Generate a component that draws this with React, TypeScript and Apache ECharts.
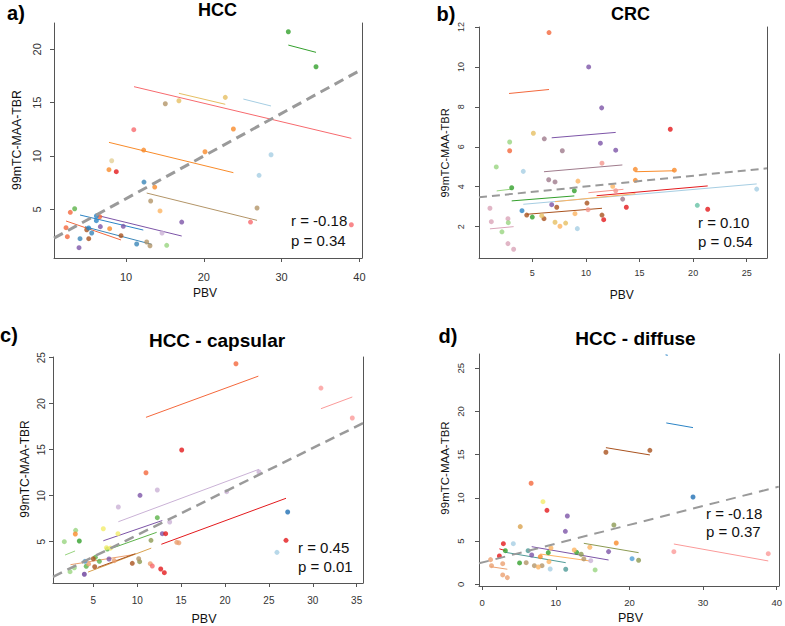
import React, { useEffect, useRef } from 'react';
import * as echarts from 'echarts';

const COL: Record<string, string> = {
  orangeRed: '#f4683c', orange: '#f98b2a', red: '#e3191c', pinkRed: '#f76a6e',
  steel: '#3a86b8', blue: '#2b84c6', blue2: '#4f9fd6', darkBlue: '#1f6fb4', lightBlue: '#a6cee3',
  green: '#33a02c', midGreen: '#5db34a', lightGreen: '#98d47f',
  purple: '#7d55a8', darkPurple: '#6a3d9a', lavender: '#cab2d6',
  brown: '#a9521e', tan: '#b39568', khaki: '#e6bf63', beige: '#e3cf96',
  lightOrange: '#fdb462', salmon: '#f4978e', pink: '#fb9a99', mauve: '#9f7b8c',
  dustyPink: '#d9a4b8', mint: '#66c2a5', yellow: '#f2ec6a', olive: '#8c9a52',
  peach: '#eba070', teal: '#4e9a96', tanOrange: '#d9a24f',
};

type Pt = [number, number, string];
type Seg = [number, number, number, number, string];

// ---------- a) HCC ----------
const hccPoints: Pt[] = [
  [8.16, 9.56, 'beige'], [7.81, 8.72, 'orange'], [8.75, 8.53, 'red'], [12.31, 7.56, 'steel'],
  [13.69, 7.09, 'orange'], [13.17, 5.78, 'tan'], [14.37, 4.85, 'lightOrange'], [3.4, 5.06, 'midGreen'],
  [2.84, 4.72, 'orangeRed'], [6.62, 4.31, 'orangeRed'], [6.19, 4.38, 'blue'], [6.19, 3.94, 'blue'],
  [2.29, 3.28, 'orangeRed'], [2.46, 2.44, 'orangeRed'], [4.09, 2.25, 'steel'], [3.96, 1.41, 'purple'],
  [4.95, 3.09, 'brown'], [5.21, 2.25, 'brown'], [5.2, 3.25, 'blue'], [5.59, 2.78, 'steel'],
  [6.7, 3.38, 'purple'], [7.9, 3.19, 'orange'], [9.65, 3.41, 'purple'], [9.36, 2.53, 'brown'],
  [11.37, 1.75, 'steel'], [12.66, 1.94, 'tan'], [13.08, 1.59, 'tan'], [15.23, 1.63, 'lightGreen'],
  [14.63, 2.78, 'lavender'], [17.16, 3.81, 'purple'], [11.0, 12.47, 'pinkRed'], [12.27, 10.56, 'orange'],
  [15.05, 14.9, 'tan'], [16.8, 15.18, 'khaki'], [22.76, 15.5, 'khaki'], [30.86, 21.65, 'green'],
  [34.42, 18.37, 'green'], [23.8, 12.53, 'orange'], [20.15, 10.4, 'orange'], [28.64, 10.12, 'lightBlue'],
  [27.1, 8.19, 'lightBlue'], [26.84, 5.13, 'tan'], [26.0, 3.81, 'pinkRed'], [38.96, 3.56, 'pinkRed'],
];
const hccSegments: Seg[] = [
  [11.03, 16.5, 38.96, 11.66, 'pinkRed'], [16.8, 15.88, 22.76, 14.85, 'khaki'],
  [25.08, 15.34, 28.64, 14.69, 'lightBlue'], [30.86, 20.4, 34.42, 19.72, 'green'],
  [7.81, 11.28, 23.8, 8.44, 'orange'], [12.66, 6.53, 26.84, 3.97, 'tan'],
  [4.09, 4.47, 12.22, 3.06, 'blue'], [6.44, 4.41, 17.16, 2.5, 'purple'],
  [2.29, 3.91, 9.36, 2.13, 'orangeRed'], [4.73, 3.37, 13.3, 1.72, 'steel'],
];
const hccFit = { intercept: 2.0, slope: 0.4 };
const hccXTicks = [10, 20, 30, 40];
const hccYTicks = [5, 10, 15, 20];

// ---------- b) CRC ----------
const crcPoints: Pt[] = [
  [1.05, 2.92, 'dustyPink'], [1.18, 2.25, 'dustyPink'], [2.73, 2.4, 'dustyPink'], [2.73, 1.15, 'dustyPink'],
  [3.26, 0.87, 'dustyPink'], [1.64, 4.99, 'lightGreen'], [2.89, 6.24, 'lightGreen'], [2.17, 1.74, 'lightGreen'],
  [2.76, 2.2, 'lightGreen'], [2.89, 5.8, 'orangeRed'], [6.56, 11.72, 'orangeRed'], [3.08, 3.95, 'green'],
  [5.0, 2.48, 'green'], [8.92, 3.8, 'green'], [4.16, 4.77, 'lightBlue'], [9.2, 1.9, 'lightBlue'],
  [25.93, 3.88, 'lightBlue'], [4.04, 2.8, 'blue'], [4.48, 2.58, 'brown'], [6.09, 2.4, 'brown'],
  [7.28, 2.97, 'brown'], [10.1, 3.18, 'brown'], [11.5, 2.58, 'brown'], [5.1, 6.68, 'khaki'],
  [5.88, 2.55, 'khaki'], [7.12, 2.22, 'khaki'], [8.11, 2.18, 'khaki'], [6.12, 6.4, 'mauve'],
  [6.53, 4.35, 'mauve'], [7.12, 4.24, 'mauve'], [7.8, 5.8, 'mauve'], [13.43, 3.38, 'mauve'],
  [6.81, 3.1, 'purple'], [10.26, 10.0, 'purple'], [11.47, 7.95, 'purple'], [11.35, 6.18, 'purple'],
  [12.78, 5.83, 'purple'], [7.58, 2.02, 'lightOrange'], [8.98, 2.65, 'lightOrange'], [9.26, 4.28, 'lightOrange'],
  [12.5, 4.02, 'lightOrange'], [10.2, 2.85, 'salmon'], [11.5, 5.18, 'salmon'], [12.78, 3.8, 'salmon'],
  [11.66, 2.35, 'red'], [13.77, 2.97, 'red'], [17.87, 6.88, 'red'], [21.36, 2.87, 'red'],
  [14.61, 4.87, 'orange'], [14.61, 4.32, 'orange'], [18.25, 4.83, 'orange'], [20.39, 3.07, 'mint'],
];
const crcSegments: Seg[] = [
  [2.83, 8.67, 6.56, 8.87, 'orangeRed'], [6.81, 6.45, 12.78, 6.72, 'purple'],
  [6.09, 4.75, 13.4, 5.09, 'mauve'], [1.68, 3.79, 3.08, 3.88, 'lightGreen'],
  [3.08, 3.29, 8.92, 3.54, 'green'], [4.16, 3.12, 25.93, 4.14, 'lightBlue'],
  [7.12, 3.25, 14.61, 3.65, 'lightOrange'], [14.61, 4.75, 18.25, 4.8, 'orange'],
  [11.0, 3.55, 21.36, 4.04, 'red'], [10.23, 3.7, 13.5, 3.87, 'salmon'],
  [4.48, 2.62, 11.5, 2.92, 'brown'], [1.05, 1.89, 3.26, 2.0, 'dustyPink'],
];
const crcFit = { intercept: 3.47, slope: 0.054 };
const crcXTicks = [5, 10, 15, 20, 25];
const crcYTicks = [2, 4, 6, 8, 10, 12];

// ---------- c) HCC - capsular ----------
const capPoints: Pt[] = [
  [10.32, 10.04, 'purple'], [6.79, 3.12, 'purple'], [12.86, 5.87, 'purple'],
  [12.29, 10.62, 'lavender'], [7.85, 8.77, 'lavender'], [13.7, 7.14, 'lavender'], [23.87, 12.58, 'lavender'],
  [20.19, 10.44, 'lavender'], [12.29, 7.61, 'midGreen'], [5.69, 2.87, 'midGreen'], [4.2, 2.33, 'midGreen'],
  [5.23, 3.3, 'midGreen'], [6.6, 4.2, 'midGreen'], [2.99, 6.24, 'lightGreen'], [1.7, 5.0, 'lightGreen'],
  [2.35, 1.74, 'lightGreen'], [2.84, 2.17, 'lightGreen'], [2.95, 5.84, 'orange'], [3.41, 5.08, 'green'],
  [6.14, 6.41, 'yellow'], [7.81, 5.87, 'yellow'], [6.5, 4.35, 'yellow'], [6.95, 4.3, 'yellow'],
  [13.24, 5.87, 'red'], [15.07, 14.97, 'red'], [12.68, 2.03, 'red'], [13.09, 1.63, 'red'], [26.95, 5.15, 'red'],
  [11.57, 5.15, 'olive'], [10.28, 2.83, 'olive'], [14.5, 4.93, 'peach'], [14.75, 4.88, 'peach'],
  [4.47, 2.58, 'peach'], [7.39, 2.94, 'peach'], [11.49, 2.61, 'peach'], [4.05, 2.87, 'blue2'],
  [5.0, 3.15, 'brown'], [5.16, 2.28, 'brown'], [9.44, 2.65, 'brown'], [10.17, 3.15, 'tan'],
  [3.98, 1.46, 'darkPurple'], [11.72, 2.36, 'pinkRed'], [11.0, 12.5, 'orangeRed'], [21.25, 24.35, 'orangeRed'],
  [30.93, 21.7, 'pink'], [34.5, 18.45, 'pink'], [27.14, 8.23, 'darkBlue'], [25.92, 3.84, 'lightBlue'],
];
const capSegments: Seg[] = [
  [11.0, 18.52, 23.8, 23.0, 'orangeRed'], [30.93, 19.46, 34.5, 20.73, 'pink'],
  [7.85, 7.17, 23.87, 12.87, 'lavender'], [12.75, 4.72, 26.95, 9.72, 'red'],
  [6.14, 5.1, 12.86, 7.3, 'purple'], [7.1, 4.28, 12.22, 6.02, 'midGreen'],
  [1.78, 3.55, 2.92, 3.99, 'lightGreen'], [2.4, 2.5, 9.6, 3.6, 'peach'],
  [4.4, 1.7, 11.6, 4.3, 'tanOrange'], [5.5, 2.2, 9.8, 3.7, 'brown'],
];
const capFit = { intercept: 0.99, slope: 0.473 };
const capXTicks = [5, 10, 15, 20, 25, 30, 35];
const capYTicks = [5, 10, 15, 20, 25];

// ---------- d) HCC - diffuse ----------
const difPoints: Pt[] = [
  [5.16, 6.67, 'tanOrange'], [2.87, 4.7, 'red'], [2.33, 3.27, 'red'], [8.79, 8.56, 'red'],
  [4.22, 4.7, 'lightBlue'], [9.23, 1.77, 'lightBlue'], [3.14, 3.89, 'green'], [5.07, 2.47, 'green'],
  [8.97, 3.66, 'green'], [12.82, 3.7, 'green'], [1.13, 2.85, 'peach'], [1.26, 2.15, 'peach'],
  [2.78, 2.38, 'peach'], [2.78, 1.08, 'peach'], [3.41, 0.77, 'peach'], [5.97, 2.5, 'tan'],
  [7.08, 2.15, 'tan'], [8.12, 2.15, 'tan'], [13.8, 2.93, 'tan'], [6.23, 3.89, 'teal'],
  [11.34, 1.74, 'teal'], [6.72, 3.39, 'purple'], [11.29, 6.13, 'purple'], [11.56, 7.9, 'purple'],
  [17.16, 3.78, 'purple'], [7.62, 2.0, 'lightOrange'], [9.06, 2.62, 'lightOrange'], [9.33, 4.2, 'lightOrange'],
  [12.5, 3.97, 'lightOrange'], [14.61, 4.28, 'lightOrange'], [7.89, 3.19, 'orange'], [18.2, 4.78, 'orange'],
  [13.44, 3.47, 'olive'], [17.88, 6.86, 'olive'], [21.24, 2.78, 'olive'], [14.74, 2.73, 'lavender'],
  [15.33, 1.66, 'lightGreen'], [20.35, 2.96, 'blue2'], [6.64, 11.69, 'orangeRed'], [8.25, 9.56, 'yellow'],
  [16.8, 15.28, 'brown'], [22.77, 15.5, 'brown'], [28.63, 10.1, 'darkBlue'], [26.03, 3.77, 'pink'],
  [38.85, 3.54, 'pink'],
];
const difSegments: Seg[] = [
  [25.0, 18.67, 28.63, 18.13, 'blue'], [16.8, 15.81, 22.77, 14.97, 'brown'],
  [26.03, 4.66, 38.85, 2.7, 'pink'], [13.8, 4.74, 21.24, 3.66, 'olive'],
  [6.72, 4.35, 17.16, 2.81, 'purple'], [7.89, 3.5, 14.61, 2.7, 'lightOrange'],
  [3.14, 3.7, 11.34, 2.5, 'teal'], [2.33, 4.1, 3.14, 3.9, 'red'],
  [1.13, 2.04, 3.41, 1.74, 'peach'], [24.9, 26.55, 25.2, 26.5, 'blue'],
];
const difFit = { intercept: 2.52, slope: 0.218 };
const difXTicks = [0, 10, 20, 30, 40];
const difYTicks = [0, 5, 10, 15, 20, 25];

const FONT = '"Liberation Sans", Arial, Helvetica, sans-serif';

const panels = [
  { points: hccPoints, segs: hccSegments, fit: hccFit, xTicks: hccXTicks, yTicks: hccYTicks,
    grid: { left: 54, top: 23, width: 308, height: 235 }, x: [0.745, 40.33], y: [0.44, 22.47],
    fs: 11, xm: 13, ym: 12, dash: { w: 3, d: [10, 6] } },
  { points: crcPoints, segs: crcSegments, fit: crcFit, xTicks: crcXTicks, yTicks: crcYTicks,
    grid: { left: 479, top: 27, width: 288, height: 231 }, x: [0.03, 26.89], y: [0.43, 12.0],
    fs: 9, xm: 10, ym: 14, dash: { w: 2, d: [8, 5] } },
  { points: capPoints, segs: capSegments, fit: capFit, xTicks: capXTicks, yTicks: capYTicks,
    grid: { left: 53, top: 357, width: 310, height: 226 }, x: [0.41, 35.72], y: [0.51, 25.08],
    fs: 10, xm: 12, ym: 7, dash: { w: 2.5, d: [10, 6] } },
  { points: difPoints, segs: difSegments, fit: difFit, xTicks: difXTicks, yTicks: difYTicks,
    grid: { left: 479, top: 354, width: 303, height: 232 }, x: [-0.44, 40.28], y: [-0.2, 26.65],
    fs: 9.5, xm: 11, ym: 14, dash: { w: 2, d: [10, 7] } },
];

const AX = '#555';

export default function App() {
  const ref = useRef<HTMLDivElement>(null);
  useEffect(() => {
    if (!ref.current) return;
    const chart = echarts.init(ref.current, undefined, { renderer: 'svg' });
    const grids: any[] = [];
    const xAxes: any[] = [];
    const yAxes: any[] = [];
    const rightAxes: any[] = [];
    const series: any[] = [];
    panels.forEach((p, i) => {
      grids.push({ ...p.grid, containLabel: false });
      xAxes.push({
        type: 'value', gridIndex: i, min: p.x[0], max: p.x[1],
        axisLine: { show: true, onZero: false, lineStyle: { color: AX, width: 1 } },
        axisTick: { show: true, length: 4, customValues: p.xTicks, lineStyle: { color: AX } },
        axisLabel: { customValues: p.xTicks, fontSize: p.fs, color: '#333', fontFamily: FONT, margin: p.xm },
        splitLine: { show: false },
      });
      yAxes.push({
        type: 'value', gridIndex: i, min: p.y[0], max: p.y[1], position: 'left',
        axisLine: { show: true, onZero: false, lineStyle: { color: AX, width: 1 } },
        axisTick: { show: true, length: 4, customValues: p.yTicks, lineStyle: { color: AX } },
        axisLabel: { customValues: p.yTicks, fontSize: p.fs, color: '#333', fontFamily: FONT, margin: p.ym, rotate: 90 },
        splitLine: { show: false },
      });
      rightAxes.push({
        type: 'value', gridIndex: i, min: p.y[0], max: p.y[1], position: 'right',
        axisLine: { show: true, onZero: false, lineStyle: { color: AX, width: 1 } },
        axisTick: { show: false }, axisLabel: { show: false }, splitLine: { show: false },
      });
      p.segs.forEach((s) => {
        series.push({
          type: 'line', xAxisIndex: i, yAxisIndex: i, showSymbol: false, symbol: 'none', z: 2,
          data: [[s[0], s[1]], [s[2], s[3]]],
          lineStyle: { color: COL[s[4]], width: 1 },
        });
      });
      series.push({
        type: 'scatter', xAxisIndex: i, yAxisIndex: i, symbolSize: 5, z: 3,
        data: p.points.map((pt) => ({ value: [pt[0], pt[1]], itemStyle: { color: COL[pt[2]] } })),
      });
      series.push({
        type: 'line', xAxisIndex: i, yAxisIndex: i, showSymbol: false, symbol: 'none', z: 4,
        data: [p.x[0], p.x[1]].map((x) => [x, p.fit.intercept + p.fit.slope * x]),
        lineStyle: { color: '#9a9a9a', width: p.dash.w, type: p.dash.d },
      });
    });

    const txt = (x: number, y: number, text: string, size: number, opts: any = {}) => ({
      type: 'text', x, y, rotation: opts.rot || 0,
      style: {
        text, fontSize: size, fontFamily: FONT, fontWeight: opts.bold ? 'bold' : 'normal',
        fill: opts.color || '#111', align: opts.align || 'center', verticalAlign: 'middle',
      },
    });

    const graphic = [
      txt(16, 13, 'a)', 20, { bold: true, color: '#000' }),
      txt(446, 14, 'b)', 20, { bold: true, color: '#000' }),
      txt(9, 335, 'c)', 20, { bold: true, color: '#000' }),
      txt(448, 336, 'd)', 20, { bold: true, color: '#000' }),
      txt(217.5, 10, 'HCC', 18, { bold: true, color: '#000' }),
      txt(630.5, 13.5, 'CRC', 18, { bold: true, color: '#000' }),
      txt(217, 340, 'HCC - capsular', 19, { bold: true, color: '#000' }),
      txt(635.5, 338.7, 'HCC - diffuse', 19, { bold: true, color: '#000' }),
      txt(17.3, 140, '99mTC-MAA-TBR', 12.3, { rot: Math.PI / 2 }),
      txt(445, 153, '99mTC-MAA-TBR', 11, { rot: Math.PI / 2 }),
      txt(25, 469, '99mTC-MAA-TBR', 12, { rot: Math.PI / 2 }),
      txt(445, 468, '99mTC-MAA-TBR', 11.5, { rot: Math.PI / 2 }),
      txt(205, 293, 'PBV', 12),
      txt(621.7, 295, 'PBV', 12),
      txt(204, 619, 'PBV', 12.5),
      txt(630.5, 618, 'PBV', 12.5),
      txt(291, 220, 'r = -0.18', 15, { align: 'left' }),
      txt(291, 240, 'p = 0.34', 15, { align: 'left' }),
      txt(698, 222, 'r = 0.10', 15, { align: 'left' }),
      txt(698, 241, 'p = 0.54', 15, { align: 'left' }),
      txt(298, 547, 'r = 0.45', 15, { align: 'left' }),
      txt(298, 566, 'p = 0.01', 15, { align: 'left' }),
      txt(706, 513, 'r = -0.18', 15, { align: 'left' }),
      txt(706, 531.5, 'p = 0.37', 15, { align: 'left' }),
    ];

    chart.setOption({
      animation: false,
      backgroundColor: '#ffffff',
      grid: grids,
      xAxis: xAxes,
      yAxis: [...yAxes, ...rightAxes],
      series,
      graphic,
    });
    return () => chart.dispose();
  }, []);
  return (
    <div
      ref={ref}
      style={{ position: 'fixed', left: 0, top: 0, width: 785, height: 626, background: '#fff' }}
    />
  );
}
